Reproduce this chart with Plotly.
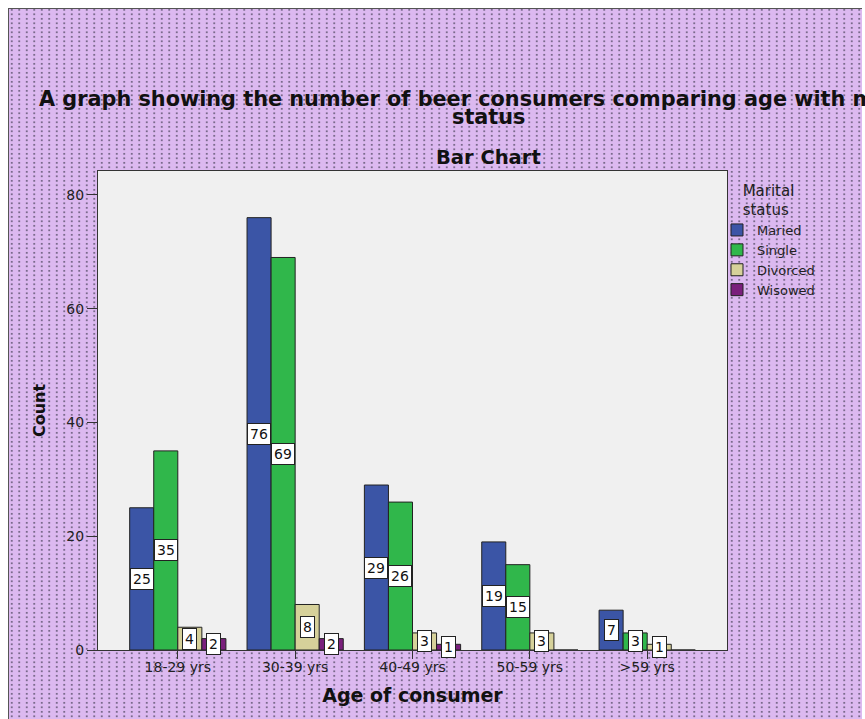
import base64
import plotly.graph_objects as go

# ---------------- data ----------------
categories = ["18-29 yrs", "30-39 yrs", "40-49 yrs", "50-59 yrs", ">59 yrs"]
married = [25, 76, 29, 19, 7]
single = [35, 69, 26, 15, 3]
divorced = [4, 8, 3, 3, 1]
widowed = [2, 2, 1, 0, 0]
series_names = ["Maried", "Single", "Divorced", "Wisowed"]
y_tick_values = [0, 20, 40, 60, 80]

# ---------------- style ----------------
series_values = [married, single, divorced, widowed]
series_colors = ["#3b55a6", "#30b74b", "#d6d19a", "#7a1f7c"]
FONT = "DejaVu Sans"
W, H = 865, 719
ML, MR, MT, MB = 98, 138, 171, 69
PW, PH = W - ML - MR, H - MT - MB
BARGAP = 0.18
n_series = len(series_names)
bar_w = (1 - BARGAP) / n_series


def px_x(px):
    return (px - ML) / PW


def px_y(py):
    return (H - MB - py) / PH


# lavender dotted background as an svg pattern image
bgw, bgh = 854, 711
svg = f"""<svg xmlns='http://www.w3.org/2000/svg' width='{bgw}' height='{bgh}' shape-rendering='crispEdges'>
<defs><pattern id='p' width='7.5' height='4.5' patternUnits='userSpaceOnUse'>
<rect width='7.5' height='4.5' fill='#dcb9f0'/>
<rect x='3' y='0.5' width='1.5' height='2.5' fill='#7a6a8c'/>
</pattern></defs>
<rect width='{bgw}' height='{bgh}' fill='url(#p)'/>
<rect x='0' y='0' width='{bgw}' height='1' fill='#555'/>
<rect x='0' y='0' width='1' height='{bgh}' fill='#555'/>
</svg>"""
svg_uri = "data:image/svg+xml;base64," + base64.b64encode(svg.encode()).decode()

fig = go.Figure()
x_idx = list(range(len(categories)))
for name, vals, col in zip(series_names, series_values, series_colors):
    fig.add_trace(go.Bar(
        x=x_idx, y=vals, name=name,
        marker=dict(color=col, line=dict(color="#222222", width=1)),
        hoverinfo="y+name",
    ))

annotations = []
for j, vals in enumerate(series_values):
    for i, v in enumerate(vals):
        if v > 0:
            annotations.append(dict(
                x=i + (j - (n_series - 1) / 2) * bar_w, y=v / 2,
                xref="x", yref="y", text=str(v), showarrow=False,
                font=dict(family=FONT, size=14, color="#111111"),
                bgcolor="white", bordercolor="#222222", borderwidth=1, borderpad=2,
                xanchor="center", yanchor="middle",
            ))

title_font = dict(family=FONT, size=20.8, color="#111111", weight="bold")
annotations += [
    dict(x=px_x(488), y=px_y(99), xref="paper", yref="paper", showarrow=False,
         text="A graph showing the number of beer consumers comparing age with marital",
         font=title_font, xanchor="center", yanchor="middle"),
    dict(x=px_x(488), y=px_y(117), xref="paper", yref="paper", showarrow=False,
         text="status", font=title_font, xanchor="center", yanchor="middle"),
    dict(x=px_x(488), y=px_y(157), xref="paper", yref="paper", showarrow=False,
         text="Bar Chart", font=dict(family=FONT, size=19.5, color="#111111", weight="bold"),
         xanchor="center", yanchor="middle"),
]

fig.update_layout(
    width=W, height=H, autosize=False,
    margin=dict(l=ML, r=MR, t=MT, b=MB, pad=0),
    paper_bgcolor="white",
    plot_bgcolor="rgba(0,0,0,0)",
    barmode="group", bargap=BARGAP, bargroupgap=0,
    font=dict(family=FONT, size=14, color="#222222"),
    showlegend=True,
    legend=dict(
        x=px_x(717), y=px_y(176), xanchor="left", yanchor="top",
        bgcolor="rgba(0,0,0,0)", borderwidth=0,
        font=dict(family=FONT, size=13, color="#222222"),
        title=dict(text="Marital<br>status", side="top center",
                   font=dict(family=FONT, size=15, color="#222222")),
        tracegroupgap=0, itemclick=False, itemdoubleclick=False,
    ),
    images=[dict(source=svg_uri, xref="paper", yref="paper",
                 x=px_x(8), y=px_y(8), sizex=bgw / PW, sizey=bgh / PH,
                 xanchor="left", yanchor="top", sizing="stretch", layer="below")],
    shapes=[dict(type="rect", xref="paper", yref="paper", x0=0, x1=1, y0=0, y1=1,
                 fillcolor="#f0f0f0", line=dict(width=0), layer="below")],
    annotations=annotations,
    xaxis=dict(
        range=[-0.68, len(categories) - 1 + 0.68],
        tickmode="array", tickvals=x_idx, ticktext=categories,
        ticks="outside", ticklen=8, tickcolor="#333333",
        ticklabelstandoff=-4,
        showline=True, linecolor="#333333", linewidth=1, mirror=True,
        showgrid=False, zeroline=False,
        tickfont=dict(family=FONT, size=14, color="#222222"),
        title=dict(text="Age of consumer", standoff=14,
                   font=dict(family=FONT, size=19, color="#111111", weight="bold")),
        fixedrange=True,
    ),
    yaxis=dict(
        range=[0, 84.2],
        tickmode="array", tickvals=y_tick_values,
        ticks="outside", ticklen=10, tickcolor="#333333",
        showline=True, linecolor="#333333", linewidth=1, mirror=True,
        showgrid=False, zeroline=False,
        tickfont=dict(family=FONT, size=14, color="#222222"),
        title=dict(text="Count", standoff=16,
                   font=dict(family=FONT, size=16, color="#111111", weight="bold")),
        fixedrange=True,
    ),
)

fig.write_html("out.html")
